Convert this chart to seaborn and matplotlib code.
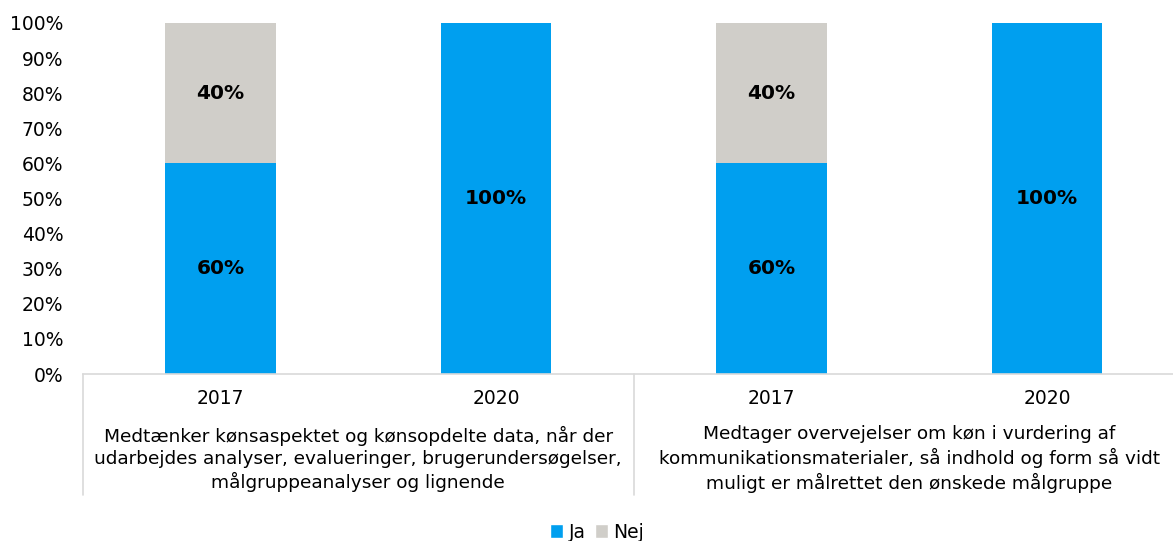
import matplotlib
matplotlib.use("Agg")
import matplotlib.pyplot as plt
import seaborn as sns
import pandas as pd
from matplotlib.patches import Patch

groups = ["Medtænker kønsaspektet og kønsopdelte data, når der\nudarbejdes analyser, evalueringer, brugerundersøgelser,\nmålgruppeanalyser og lignende",
          "Medtager overvejelser om køn i vurdering af\nkommunikationsmaterialer, så indhold og form så vidt\nmuligt er målrettet den ønskede målgruppe"]
years = ["2017", "2020", "2017", "2020"]
ja = [60, 100, 60, 100]
nej = [40, 0, 40, 0]

BLUE = "#009FEF"
GREY = "#D0CEC9"

sns.set_theme(style="white")
plt.rcParams["font.family"] = ["DejaVu Sans"]

keys = [f"{i}-{y}" for i, y in enumerate(years)]
df = pd.DataFrame({"key": keys, "ja": ja, "nej": nej})
df["total"] = df["ja"] + df["nej"]

fig = plt.figure(figsize=(11.73, 5.41), dpi=100)
ax = fig.add_axes([82.75 / 1173, 167 / 541, 1102 / 1173, 351 / 541])

sns.barplot(data=df, x="key", y="total", color=GREY, width=0.4, ax=ax, saturation=1, linewidth=0)
sns.barplot(data=df, x="key", y="ja", color=BLUE, width=0.4, ax=ax, saturation=1, linewidth=0)

ax.set_xlim(-0.5, 3.5)
ax.set_ylim(0, 100)
ax.set_yticks(range(0, 101, 10))
ax.set_yticklabels([f"{v}%" for v in range(0, 101, 10)], fontsize=13.5, color="#000000")
ax.set_xticks(range(4))
ax.set_xticklabels(years, fontsize=13.5, color="#000000")
ax.tick_params(axis="y", length=0, pad=14)
ax.tick_params(axis="x", length=0, pad=11)
ax.set_xlabel("")
ax.set_ylabel("")
for s in ["left", "right", "top"]:
    ax.spines[s].set_visible(False)
ax.spines["bottom"].set_color("#D9D9D9")
ax.spines["bottom"].set_linewidth(1.2)

for i in range(4):
    if nej[i] > 0:
        ax.text(i, ja[i] + nej[i] / 2, f"{nej[i]}%", ha="center", va="center",
                fontsize=14.5, fontweight="bold", color="black")
    if ja[i] > 0:
        ax.text(i, ja[i] / 2, f"{ja[i]}%", ha="center", va="center",
                fontsize=14.5, fontweight="bold", color="black")

sep_bottom = -(495 - 374) / 351
for xs in [-0.5, 1.5, 3.5]:
    ax.plot([xs, xs], [0, sep_bottom], transform=ax.get_xaxis_transform(),
            color="#D9D9D9", lw=1.2, clip_on=False)

for gi, g in enumerate(groups):
    ax.text(gi * 2 + 0.5, -(459 - 374) / 351, g, transform=ax.get_xaxis_transform(),
            ha="center", va="center", fontsize=13.3, color="black", linespacing=1.28)

handles = [Patch(facecolor=BLUE, label="Ja"), Patch(facecolor=GREY, label="Nej")]
leg = fig.legend(handles=handles, loc="center", bbox_to_anchor=(597 / 1173, 1 - 532 / 541),
                 ncol=2, frameon=False, fontsize=13.5, handlelength=0.7, handleheight=0.7,
                 handletextpad=0.3, columnspacing=0.5)
for t in leg.get_texts():
    t.set_color("black")

fig.savefig("out.png", dpi=100)
